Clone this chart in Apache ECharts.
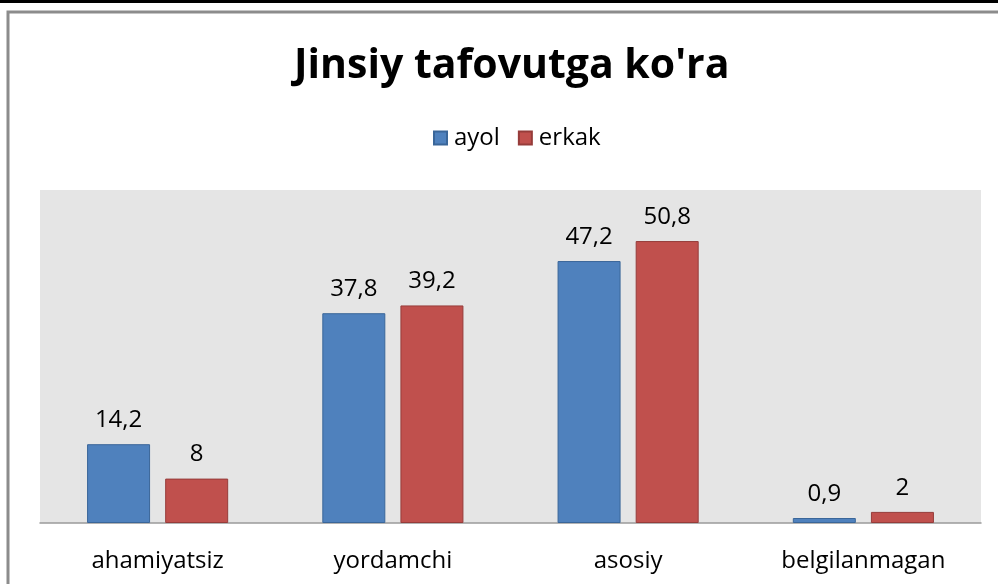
<!DOCTYPE html>
<html><head><meta charset="utf-8">
<script src="https://cdn.jsdelivr.net/npm/echarts@6/dist/echarts.min.js"></script>
<style>html,body{margin:0;padding:0;background:#fff}#c{width:998px;height:584px}</style>
</head><body><div id="c"></div>
<script>
const categories = ['ahamiyatsiz', 'yordamchi', 'asosiy', 'belgilanmagan'];
const ayol = [14.2, 37.8, 47.2, 0.9];
const erkak = [8, 39.2, 50.8, 2];
const seriesNames = ['ayol', 'erkak'];
const titleText = "Jinsiy tafovutga ko'ra";
const FONT = '"Open Sans", sans-serif';

const chart = echarts.init(document.getElementById('c'), null, {renderer: 'canvas'});
const fmt = p => String(p.value).replace('.', ',');
chart.setOption({
  animation: false,
  backgroundColor: '#fff',
  graphic: [
    {type: 'rect', shape: {x: 0, y: 0, width: 998, height: 3}, style: {fill: '#000'}, z: 10},
    {type: 'rect', shape: {x: 8, y: 12, width: 1000, height: 600}, style: {fill: 'none', stroke: '#8c8c8c', lineWidth: 3}, z: 10}
  ],
  title: {
    text: titleText, left: 289, top: 41,
    textStyle: {fontFamily: FONT, fontWeight: 'bold', fontSize: 41, color: '#000'}
  },
  legend: {
    data: seriesNames, top: 121, left: 428, itemWidth: 13, itemHeight: 13, itemGap: 18,
    icon: 'rect',
    textStyle: {fontFamily: FONT, fontSize: 24, color: '#000', padding: [0, 0, 0, 2]}
  },
  grid: {left: 40, right: 17, top: 190, bottom: 61, show: true, backgroundColor: '#e5e5e5', borderWidth: 0},
  xAxis: {
    type: 'category', data: categories,
    axisLine: {lineStyle: {color: '#9a9a9a', width: 1.5}},
    axisTick: {show: false},
    axisLabel: {fontFamily: FONT, fontSize: 24, color: '#000', margin: 26}
  },
  yAxis: {type: 'value', min: 0, max: 60, show: false, splitLine: {show: false}},
  series: [
    {name: 'ayol', type: 'bar', data: ayol, barWidth: 63, barGap: '24%',
     itemStyle: {color: '#4f81bd', borderColor: '#3a6699', borderWidth: 1},
     label: {show: true, position: 'top', distance: 12, formatter: fmt, fontFamily: FONT, fontSize: 24, color: '#000'}},
    {name: 'erkak', type: 'bar', data: erkak, barWidth: 63,
     itemStyle: {color: '#c0504d', borderColor: '#963c3a', borderWidth: 1},
     label: {show: true, position: 'top', distance: 12, formatter: fmt, fontFamily: FONT, fontSize: 24, color: '#000'}}
  ]
});
</script></body></html>
